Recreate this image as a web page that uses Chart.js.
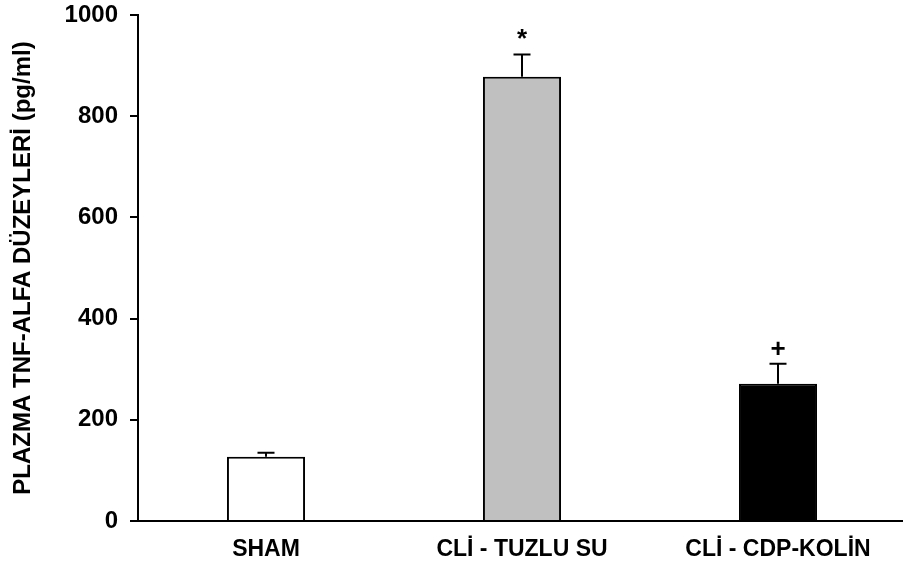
<!DOCTYPE html>
<html>
<head>
<meta charset="utf-8">
<script src="https://cdn.jsdelivr.net/npm/chart.js@4/dist/chart.umd.min.js"></script>
<style>
  html, body { margin: 0; padding: 0; background: #ffffff; overflow: hidden; }
  #wrap { width: 910px; height: 570px; position: relative; }
</style>
</head>
<body>
<div id="wrap"><canvas id="c"></canvas></div>
<script>
const categories = ["SHAM", "CLİ - TUZLU SU", "CLİ - CDP-KOLİN"];
const meanValues = [127, 878, 271];
const errorValues = [8, 44, 40];
const markers = ["", "*", "+"];
const barColors = ["#ffffff", "#c0c0c0", "#000000"];
const yTitle = "PLAZMA TNF-ALFA DÜZEYLERİ (pg/ml)";

const FONT = "'Liberation Sans', Arial, sans-serif";

const errorBarPlugin = {
  id: 'errorBars',
  afterDatasetsDraw(chart) {
    const ctx = chart.ctx;
    const meta = chart.getDatasetMeta(0);
    const y = chart.scales.y;
    ctx.save();
    ctx.strokeStyle = '#000';
    ctx.lineWidth = 2;
    meta.data.forEach((bar, i) => {
      const x = bar.x;
      const yb = y.getPixelForValue(meanValues[i]);
      const yt = y.getPixelForValue(meanValues[i] + errorValues[i]);
      ctx.beginPath();
      ctx.moveTo(x, yb);
      ctx.lineTo(x, yt);
      ctx.moveTo(x - 8.5, yt);
      ctx.lineTo(x + 8.5, yt);
      ctx.stroke();
      if (markers[i]) {
        ctx.fillStyle = '#000';
        ctx.font = "bold 26px " + FONT;
        ctx.textAlign = 'center';
        ctx.textBaseline = 'alphabetic';
        ctx.fillText(markers[i], x, yt - 7);
      }
    });
    ctx.restore();
  }
};

new Chart(document.getElementById('c'), {
  type: 'bar',
  data: {
    labels: categories,
    datasets: [{
      data: meanValues,
      backgroundColor: barColors,
      borderColor: '#000000',
      borderWidth: 2,
      barPercentage: 1,
      categoryPercentage: 0.305
    }]
  },
  options: {
    responsive: true,
    maintainAspectRatio: false,
    animation: false,
    devicePixelRatio: 1,
    layout: { padding: { top: 15, right: 4, bottom: 0, left: 0 } },
    plugins: { legend: { display: false }, tooltip: { enabled: false } },
    scales: {
      x: {
        grid: { display: false, drawTicks: false },
        border: { display: true, color: '#000', width: 2 },
        ticks: { color: '#000', font: { family: FONT, size: 23, weight: 'bold' }, padding: 15, maxRotation: 0 },
        afterFit(scale) { scale.height = 49; scale.paddingLeft = 0; scale.paddingRight = 0; }
      },
      y: {
        min: 0, max: 1000,
        grid: { display: true, drawOnChartArea: false, drawTicks: true, tickLength: 8, tickColor: '#000', lineWidth: 2 },
        border: { display: true, color: '#000', width: 2 },
        ticks: { stepSize: 200, color: '#000', font: { family: FONT, size: 24, weight: 'bold' }, padding: 12,
                 callback: (v) => String(v) },
        title: { display: true, text: yTitle, color: '#000', font: { family: FONT, size: 24, weight: 'bold' }, padding: { top: 9, bottom: 0 } },
        afterFit(scale) { scale.width = 138; scale.paddingTop = 0; scale.paddingBottom = 0; }
      }
    }
  },
  plugins: [errorBarPlugin]
});
</script>
</body>
</html>
